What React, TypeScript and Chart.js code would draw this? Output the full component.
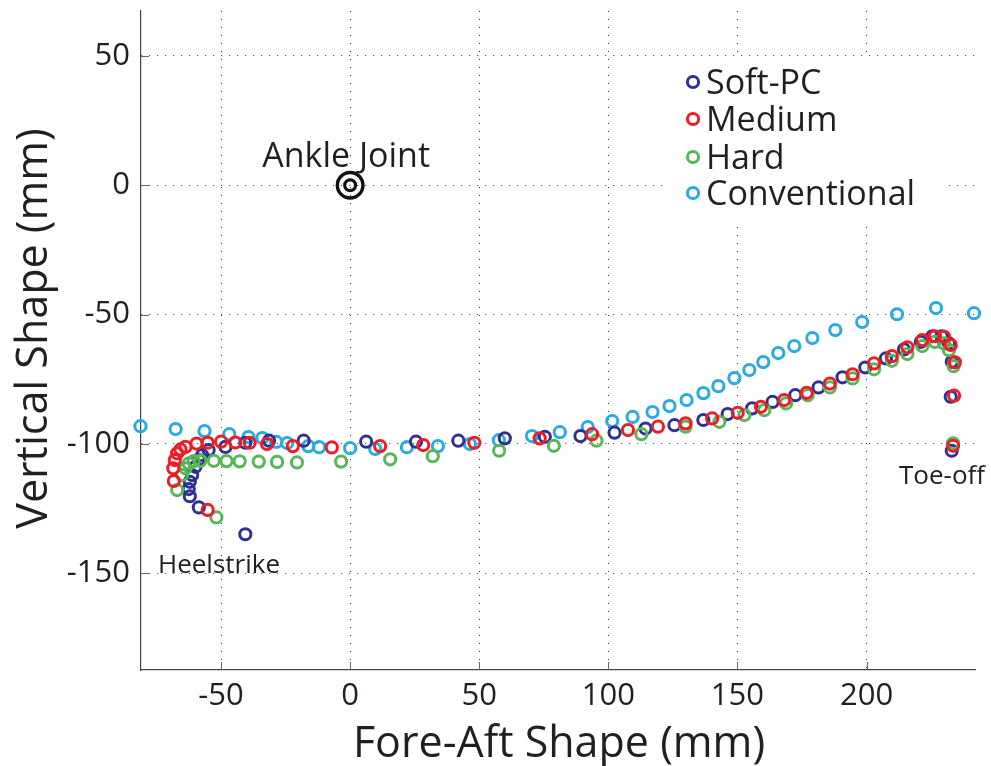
import React, { useEffect, useRef } from 'react';
import { Chart, registerables } from 'chart.js';

Chart.register(...registerables);

// ---------- data (mm) ----------
const seriesNames = ['Soft-PC', 'Medium', 'Hard', 'Conventional'];

const softX = [-40.6, -58.6, -62.1, -62.5, -62.1, -61.2, -59.9, -58.6, -57.3, -54.8, -48.3, -40.6, -31.4, -18.0, 6.2, 25.5, 41.9, 59.9, 75.4, 89.2, 102.4, 114.4, 125.6, 136.8, 146.2, 155.7, 163.6, 172.4, 181.4, 190.7, 199.5, 207.5, 214.5, 221.0, 225.5, 229.1, 231.9, 233.0, 232.6, 233.0];
const softY = [-135.0, -124.6, -120.3, -117.5, -114.7, -112.1, -108.9, -106.3, -104.4, -102.4, -101.2, -99.6, -98.8, -98.8, -99.2, -99.2, -98.8, -97.9, -97.3, -97.0, -95.7, -94.1, -92.8, -90.8, -88.5, -86.3, -83.8, -81.2, -78.2, -74.3, -70.5, -67.0, -63.5, -60.6, -58.4, -58.4, -61.2, -68.3, -81.8, -102.7];

const mediumX = [-55.2, -68.3, -68.5, -67.9, -67.0, -65.7, -63.8, -59.5, -55.2, -50.0, -44.5, -38.9, -32.2, -22.2, -7.1, 11.6, 28.3, 48.1, 73.4, 93.7, 107.6, 119.2, 129.9, 140.2, 150.1, 159.1, 168.1, 176.8, 185.8, 194.6, 202.9, 209.8, 215.8, 221.6, 226.5, 230.0, 232.6, 234.2, 233.9, 233.5];
const mediumY = [-125.6, -114.4, -109.5, -106.3, -103.7, -102.2, -101.2, -99.9, -99.6, -99.2, -99.5, -99.6, -100.1, -100.9, -101.4, -100.9, -100.5, -99.6, -97.9, -96.3, -94.7, -93.4, -92.1, -90.2, -88.0, -85.7, -83.1, -80.3, -76.7, -73.1, -68.9, -66.1, -62.7, -59.9, -58.4, -58.6, -61.8, -68.5, -81.4, -100.8];

const hardX = [-51.8, -67.0, -65.1, -63.8, -62.5, -60.6, -58.0, -52.8, -47.9, -42.8, -35.4, -28.3, -20.6, -3.5, 15.5, 32.0, 57.7, 78.9, 95.4, 112.8, 129.9, 143.0, 152.7, 160.4, 168.8, 177.2, 185.8, 194.6, 202.9, 209.8, 215.8, 221.6, 226.5, 230.0, 231.9, 233.7, 233.5];
const hardY = [-128.5, -117.9, -112.1, -109.5, -107.6, -106.7, -106.6, -106.6, -106.7, -106.8, -106.9, -107.0, -107.2, -106.9, -106.0, -104.8, -102.7, -100.8, -98.8, -96.3, -93.4, -91.5, -88.9, -87.0, -84.4, -81.2, -78.2, -74.7, -71.2, -67.9, -65.3, -62.2, -60.6, -61.2, -63.8, -70.0, -99.8];

const convX = [-81.2, -67.6, -56.4, -46.8, -39.4, -34.0, -28.6, -24.4, -16.2, -12.0, 0.0, 9.7, 22.0, 34.0, 46.4, 57.6, 70.4, 81.2, 92.0, 101.5, 109.4, 117.1, 123.7, 130.3, 136.8, 142.6, 148.8, 154.6, 160.0, 165.8, 172.0, 179.0, 187.9, 198.3, 211.8, 226.9, 241.6];
const convY = [-93.2, -94.3, -95.1, -96.3, -97.4, -97.8, -99.3, -99.7, -100.9, -101.3, -101.7, -102.0, -101.3, -100.9, -100.1, -98.6, -97.0, -95.5, -93.5, -91.2, -89.6, -87.7, -85.4, -83.1, -80.4, -77.7, -74.6, -71.5, -68.4, -64.9, -62.2, -59.1, -56.0, -52.9, -49.9, -47.5, -49.5];

const ankleX = [0, 0];
const ankleY = [0, 0];

const xTickValues = [-50, 0, 50, 100, 150, 200];
const yTickValues = [50, 0, -50, -100, -150];
const xLimits = [-81, 242];
const yLimits = [-187.5, 67.4];

const xTitle = 'Fore-Aft Shape (mm)';
const yTitle = 'Vertical Shape (mm)';
const ankleLabel = 'Ankle Joint';
const heelLabel = 'Heelstrike';
const toeLabel = 'Toe-off';

// ---------- styles ----------
const COLORS = ['#2E3192', '#EE1C25', '#55B755', '#29ABE2'];
const FONT = '"Open Sans", "Noto Sans", sans-serif';
const TEXT = '#231F20';

const toPts = (xs: number[], ys: number[]) => xs.map((x, i) => ({ x, y: ys[i] }));

const overlayPlugin = {
  id: 'overlay',
  beforeDatasetsDraw(chart: any) {
    const { ctx } = chart;
    ctx.save();
    ctx.fillStyle = '#ffffff';
    ctx.fillRect(663, 57, 286, 165);
    ctx.restore();
  },
  afterDraw(chart: any) {
    const { ctx, chartArea } = chart;
    const xs = chart.scales.x;
    const ys = chart.scales.y;
    ctx.save();
    // inward tick marks
    ctx.strokeStyle = '#666';
    ctx.lineWidth = 1;
    ctx.beginPath();
    xTickValues.forEach((v) => {
      const px = Math.round(xs.getPixelForValue(v)) + 0.5;
      ctx.moveTo(px, chartArea.bottom);
      ctx.lineTo(px, chartArea.bottom - 8);
    });
    yTickValues.forEach((v) => {
      const py = Math.round(ys.getPixelForValue(v)) + 0.5;
      ctx.moveTo(chartArea.left, py);
      ctx.lineTo(chartArea.left + 8, py);
    });
    ctx.stroke();

    // legend
    const rows = [82, 119, 157, 193];
    ctx.font = `34px ${FONT}`;
    ctx.textBaseline = 'alphabetic';
    ctx.textAlign = 'left';
    seriesNames.forEach((name, i) => {
      ctx.beginPath();
      ctx.strokeStyle = COLORS[i];
      ctx.lineWidth = 3;
      ctx.arc(693, rows[i], 5.6, 0, Math.PI * 2);
      ctx.stroke();
      ctx.fillStyle = TEXT;
      ctx.fillText(name, 706, rows[i] + 11.5);
    });

    // annotations
    ctx.fillStyle = TEXT;
    ctx.font = `34px ${FONT}`;
    ctx.textAlign = 'center';
    ctx.fillText(ankleLabel, xs.getPixelForValue(0) - 4, ys.getPixelForValue(0) - 18);
    ctx.font = `26px ${FONT}`;
    ctx.textAlign = 'left';
    ctx.fillText(heelLabel, 158, 573);
    ctx.fillText(toeLabel, 899, 484);

    // axis titles
    ctx.font = `43px ${FONT}`;
    ctx.textAlign = 'center';
    ctx.fillText(xTitle, 559, 757);
    ctx.translate(47, 328.5);
    ctx.rotate(-Math.PI / 2);
    ctx.fillText(yTitle, 0, 0);
    ctx.restore();
  },
};

export default function App() {
  const canvasRef = useRef<HTMLCanvasElement | null>(null);

  useEffect(() => {
    if (!canvasRef.current) return;
    const series = [
      { name: seriesNames[0], pts: toPts(softX, softY), color: COLORS[0], order: 2 },
      { name: seriesNames[1], pts: toPts(mediumX, mediumY), color: COLORS[1], order: 0 },
      { name: seriesNames[2], pts: toPts(hardX, hardY), color: COLORS[2], order: 1 },
      { name: seriesNames[3], pts: toPts(convX, convY), color: COLORS[3], order: 3 },
    ];
    const datasets: any[] = series.map((s) => ({
      label: s.name,
      data: s.pts,
      showLine: false,
      pointStyle: 'circle',
      pointRadius: 5.6,
      pointBorderWidth: 3,
      pointBorderColor: s.color,
      pointBackgroundColor: 'rgba(0,0,0,0)',
      borderColor: s.color,
      backgroundColor: 'rgba(0,0,0,0)',
      order: s.order,
      clip: false,
    }));
    datasets.push({
      label: 'Ankle',
      data: toPts(ankleX, ankleY),
      showLine: false,
      pointRadius: [12.8, 5.4],
      pointBorderWidth: [3.4, 3.2],
      pointBorderColor: '#111',
      pointBackgroundColor: 'rgba(0,0,0,0)',
      order: 4,
      clip: false,
    });

    const tickFont = { family: FONT, size: 31 };
    const chart = new Chart(canvasRef.current, {
      type: 'scatter',
      data: { datasets },
      plugins: [overlayPlugin],
      options: {
        animation: false,
        responsive: false,
        events: [],
        layout: { autoPadding: false, padding: { top: 11, right: 16, left: 0, bottom: 0 } },
        plugins: { legend: { display: false }, tooltip: { enabled: false } },
        scales: {
          x: {
            type: 'linear',
            min: xLimits[0],
            max: xLimits[1],
            afterBuildTicks: (s: any) => {
              s.ticks = xTickValues.map((v) => ({ value: v }));
            },
            afterFit: (s: any) => {
              s.height = 96;
              s.paddingLeft = 0;
              s.paddingRight = 0;
            },
            ticks: {
              font: tickFont,
              color: TEXT,
              padding: 8,
              maxRotation: 0,
              autoSkip: false,
              callback: (v: any) => String(v),
            },
            grid: { color: '#333', lineWidth: 1, drawTicks: false },
            border: { display: true, color: '#444', width: 1.2, dash: [1, 7] },
          },
          y: {
            type: 'linear',
            min: yLimits[0],
            max: yLimits[1],
            afterBuildTicks: (s: any) => {
              s.ticks = yTickValues.map((v) => ({ value: v }));
            },
            afterFit: (s: any) => {
              s.width = 141;
              s.paddingTop = 0;
              s.paddingBottom = 0;
            },
            ticks: {
              font: tickFont,
              color: TEXT,
              padding: 11,
              autoSkip: false,
              callback: (v: any) => String(v),
            },
            grid: { color: '#333', lineWidth: 1, drawTicks: false },
            border: { display: true, color: '#444', width: 1.2, dash: [1, 7] },
          },
        },
      } as any,
    });
    return () => chart.destroy();
  }, []);

  return (
    <div style={{ position: 'absolute', left: 0, top: 0, width: 991, height: 766, background: '#fff' }}>
      <canvas ref={canvasRef} width={991} height={766} style={{ display: 'block' }} />
    </div>
  );
}
